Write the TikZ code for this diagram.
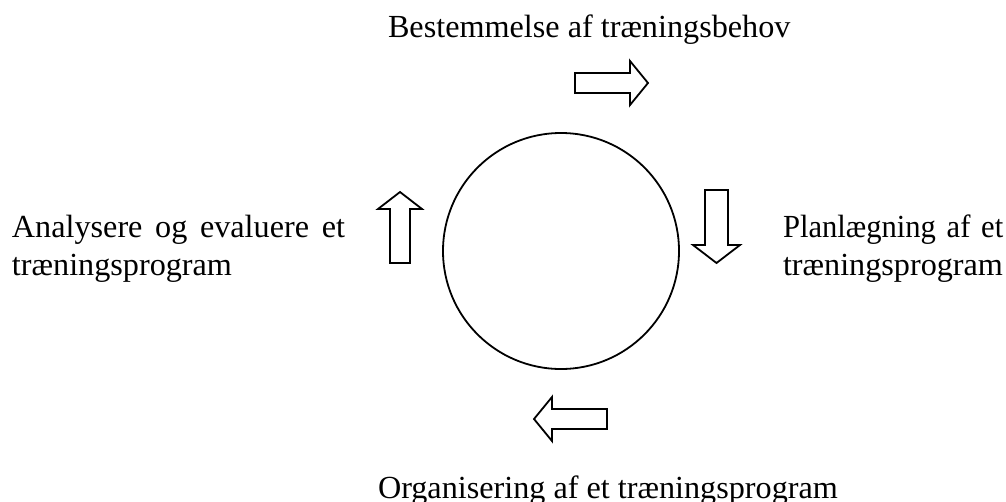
\documentclass[tikz,border=0pt]{standalone}
\usepackage{fontspec}
\setmainfont{Liberation Serif}
\newfontfamily\narrowserif[FakeStretch=0.95]{Liberation Serif}
\begin{document}
\begin{tikzpicture}[x=1pt,y=-1pt,
  lbl/.style={inner sep=0pt, outer sep=0pt, font=\fontsize{32.2}{38}\selectfont},
  barrow/.style={draw=black, line width=1.8pt, fill=white, line join=miter}]
\useasboundingbox (0,0) rectangle (1006,501);
% texts
\node[lbl, anchor=base west] (top) at (388,37) {Bestemmelse af træningsbehov};
\node[lbl, anchor=base west, text width=333pt, align=justify] (left) at (12,237)
  {Analysere og evaluere et\linebreak træningsprogram};
\begin{scope}
  \clip (760,0) rectangle (1006,285);
  \node[lbl, anchor=base west, text width=300pt, align=left] (right) at (783,237)
    {{\narrowserif Planlægning af et}\\træningsprogram};
\end{scope}
\node[lbl, anchor=base west] (bottom) at (378,498) {Organisering af et træningsprogram};
% circle
\draw[line width=1.8pt] (561,251) circle[radius=118];
% up arrow (left)
\draw[barrow] (390,263) -- (390,209) -- (378,209) -- (400,192) -- (422,209) -- (410,209) -- (410,263) -- cycle;
% down arrow (right)
\draw[barrow] (705,190) -- (728,190) -- (728,245) -- (740,245) -- (716.5,263) -- (693,245) -- (705,245) -- cycle;
% left arrow (bottom)
\draw[barrow] (607,409) -- (552,409) -- (552,397) -- (534,419) -- (552,441) -- (552,429) -- (607,429) -- cycle;
% right arrow (top)
\draw[barrow] (575,73) -- (630,73) -- (630,61) -- (648,83) -- (630,105) -- (630,93) -- (575,93) -- cycle;
\end{tikzpicture}
\end{document}
